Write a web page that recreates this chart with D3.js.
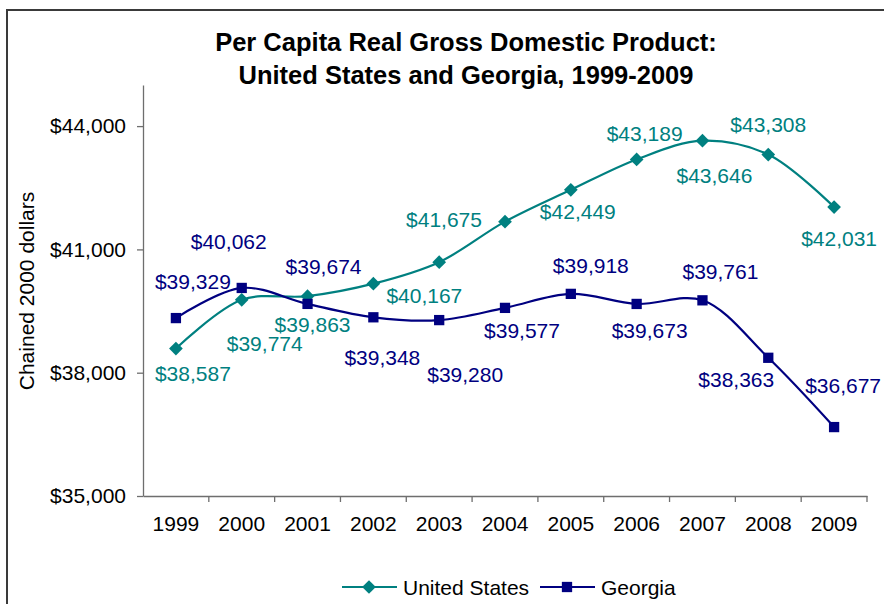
<!DOCTYPE html>
<html>
<head>
<meta charset="utf-8">
<script src="https://cdn.jsdelivr.net/npm/d3@7"></script>
<style>
  html, body { margin: 0; padding: 0; background: #fff; }
  svg { display: block; font-family: "Liberation Sans", Arial, sans-serif; }
</style>
</head>
<body>
<svg id="chart" width="884" height="604"></svg>
<script>
// Per capita real GDP, chained 2000 dollars
const years = ["1999","2000","2001","2002","2003","2004","2005","2006","2007","2008","2009"];
const usValues = [38587, 39774, 39863, 40167, 40690, 41675, 42449, 43189, 43646, 43308, 42031];
const gaValues = [39329, 40062, 39674, 39348, 39280, 39577, 39918, 39673, 39761, 38363, 36677];
// which points carry a value label (2003 US point is unlabeled)
const usLabelShown = [true, true, true, true, false, true, true, true, true, true, true];
const gaLabelShown = [true, true, true, true, true, true, true, true, true, true, true];
const yTicks = [35000, 38000, 41000, 44000];

const titleLines = ["Per Capita Real Gross Domestic Product:", "United States and Georgia, 1999-2009"];
const yTitle = "Chained 2000 dollars";
const seriesNames = ["United States", "Georgia"];

// label placement relative to each marker (dx, dy)
const usLabelOffset = [[17,25],[23,44],[5,28],[51,12],[0,0],[-61,-2],[7,22],[8,-26],[12,35],[0,-30],[5,31]];
const gaLabelOffset = [[17,-37],[-13,-47],[16,-37],[9,40],[26,54],[17,23],[20,-28],[13,27],[18,-29],[-32,22],[9,-42]];

const US_COLOR = "#008080";
const GA_COLOR = "#000080";
const AXIS_COLOR = "#6e6e6e";
const FONT = 21;

const svg = d3.select("#chart");

// outer frame
svg.append("rect")
  .attr("x", 7).attr("y", 10).attr("width", 920).attr("height", 700)
  .attr("fill", "none").attr("stroke", "#3a3a3a").attr("stroke-width", 2);

// title
svg.append("g").selectAll("text").data(titleLines).join("text")
  .attr("x", 466).attr("y", (d, i) => 51 + i * 33)
  .attr("text-anchor", "middle")
  .attr("font-weight", "bold").attr("font-size", 25.5)
  .attr("fill", "#000")
  .text(d => d);

const x = d3.scaleBand().domain(years).range([143, 867]);
const y = d3.scaleLinear().domain([35000, 45000]).range([496, 85]);
const cx = d => x(d) + x.bandwidth() / 2;

const fmt = d3.format("$,");

// y axis
const yAxis = svg.append("g").attr("transform", "translate(143,0)")
  .call(d3.axisLeft(y).tickValues(yTicks).tickFormat(fmt).tickSize(6).tickSizeOuter(0).tickPadding(11));
yAxis.selectAll("path, line").attr("stroke", AXIS_COLOR).attr("stroke-width", 1.3);
yAxis.selectAll("text").attr("font-size", FONT).attr("fill", "#000")
  .attr("font-family", "\"Liberation Sans\", Arial, sans-serif");

// x axis: baseline, ticks between categories, centered labels
const xAxis = svg.append("g").attr("transform", "translate(0,496)")
  .call(d3.axisBottom(x).tickSize(0).tickSizeOuter(0).tickPadding(20));
xAxis.select("path").attr("stroke", AXIS_COLOR).attr("stroke-width", 1.3);
xAxis.selectAll("text").attr("font-size", FONT).attr("fill", "#000")
  .attr("font-family", "\"Liberation Sans\", Arial, sans-serif");
const bounds = years.map(d => x(d)).concat([x.range()[1]]).slice(1);
xAxis.append("g").selectAll("line").data(bounds).join("line")
  .attr("x1", d => d).attr("x2", d => d).attr("y1", 0).attr("y2", 6)
  .attr("stroke", AXIS_COLOR).attr("stroke-width", 1.3);

// y axis title
svg.append("text")
  .attr("transform", "translate(34,291) rotate(-90)")
  .attr("text-anchor", "middle")
  .attr("font-size", FONT).attr("fill", "#000")
  .text(yTitle);

const line = d3.line()
  .x((d, i) => cx(years[i]))
  .y(d => y(d))
  .curve(d3.curveCatmullRom.alpha(0.5));

const diamond = d3.symbol().type(d3.symbolDiamond2).size(120);
const square = d3.symbol().type(d3.symbolSquare2).size(135);

function drawSeries(values, color, sym) {
  const g = svg.append("g");
  g.append("path").datum(values)
    .attr("d", line).attr("fill", "none")
    .attr("stroke", color).attr("stroke-width", 2.2);
  g.selectAll("path.mark").data(values).join("path")
    .attr("class", "mark")
    .attr("d", sym)
    .attr("transform", (d, i) => `translate(${cx(years[i])},${y(d)})`)
    .attr("fill", color);
}

function drawLabels(values, shown, offsets, color) {
  svg.append("g").selectAll("text")
    .data(values.map((v, i) => ({ v, i })).filter(d => shown[d.i]))
    .join("text")
    .attr("x", d => cx(years[d.i]) + offsets[d.i][0])
    .attr("y", d => y(d.v) + offsets[d.i][1])
    .attr("dy", "0.36em")
    .attr("text-anchor", "middle")
    .attr("font-size", FONT).attr("fill", color)
    .text(d => fmt(d.v));
}

drawSeries(usValues, US_COLOR, diamond);
drawSeries(gaValues, GA_COLOR, square);
drawLabels(usValues, usLabelShown, usLabelOffset, US_COLOR);
drawLabels(gaValues, gaLabelShown, gaLabelOffset, GA_COLOR);

// legend
const legend = svg.append("g").attr("transform", "translate(0,587)");
const legendItems = [
  { name: seriesNames[0], color: US_COLOR, sym: diamond, x0: 342 },
  { name: seriesNames[1], color: GA_COLOR, sym: square, x0: 540 }
];
legendItems.forEach(it => {
  legend.append("line")
    .attr("x1", it.x0).attr("x2", it.x0 + 55).attr("y1", 0).attr("y2", 0)
    .attr("stroke", it.color).attr("stroke-width", 2.2);
  legend.append("path").attr("d", it.sym)
    .attr("transform", `translate(${it.x0 + 27},0)`).attr("fill", it.color);
  legend.append("text")
    .attr("x", it.x0 + 61).attr("y", 0).attr("dy", "0.36em")
    .attr("font-size", FONT).attr("fill", "#000")
    .text(it.name);
});
</script>
</body>
</html>
